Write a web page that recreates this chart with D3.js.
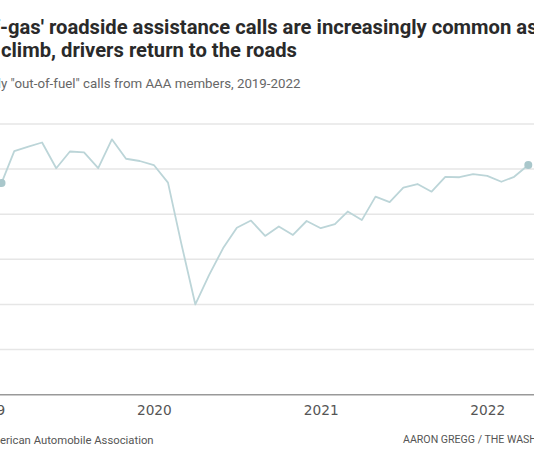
<!DOCTYPE html>
<html>
<head>
<meta charset="utf-8">
<script src="https://cdn.jsdelivr.net/npm/d3@7"></script>
<style>
  html, body { margin: 0; padding: 0; background: #fff; overflow: hidden; }
  svg { display: block; font-family: "Roboto", "Liberation Sans", sans-serif; }
</style>
</head>
<body>
<div id="chart"></div>
<script>
// Monthly "out-of-fuel" calls
const months = [
  "2019-02","2019-03","2019-04","2019-05","2019-06","2019-07","2019-08","2019-09","2019-10","2019-11","2019-12",
  "2020-01","2020-02","2020-03","2020-04","2020-05","2020-06","2020-07","2020-08","2020-09","2020-10","2020-11","2020-12",
  "2021-01","2021-02","2021-03","2021-04","2021-05","2021-06","2021-07","2021-08","2021-09","2021-10","2021-11","2021-12",
  "2022-01","2022-02","2022-03","2022-04"
];
const calls = [
  46900, 54000, 55000, 55900, 50200, 53900, 53700, 50200, 56600, 52300, 51800,
  50900, 47000, 33600, 20000, 26500, 32500, 37000, 38600, 35200, 37300, 35400, 38500,
  36900, 37800, 40600, 38700, 43900, 42700, 45900, 46700, 45000, 48300, 48200, 48900,
  48500, 47200, 48300, 50900
];
const yTicks = [0, 10000, 20000, 30000, 40000, 50000, 60000];
const yearTicks = ["2019", "2020", "2021", "2022"];

const titleLines = [
  "'Out-of-gas' roadside assistance calls are increasingly common as gas",
  "prices climb, drivers return to the roads"
];
const subtitle = "Monthly \"out-of-fuel\" calls from AAA members, 2019-2022";
const sourceText = "Source: American Automobile Association";
const creditText = "AARON GREGG / THE WASHINGTON POST";

const width = 534;
const height = 462;

const parseMonth = d3.timeParse("%Y-%m");
const data = months.map((m, i) => ({ date: parseMonth(m), value: calls[i] }));

const svg = d3.select("#chart")
  .append("svg")
  .attr("width", width)
  .attr("height", height);

const x = d3.scaleTime()
  .domain([parseMonth("2019-02"), parseMonth("2022-04")])
  .range([1.5, 528.3]);

const y = d3.scaleLinear()
  .domain([0, 60000])
  .range([394.7, 124]);

// text that is cut on the left: shift so the visible part starts at targetX
function croppedText(full, prefix, targetX, yPos, size, weight, color) {
  const t = svg.append("text")
    .attr("y", yPos)
    .attr("font-size", size)
    .attr("font-weight", weight)
    .attr("fill", color)
    .text(prefix.replace(/ /g, "\u00a0"));
  const w = prefix ? t.node().getComputedTextLength() : 0;
  t.attr("x", targetX - w).text(full);
  return t;
}

// titles
croppedText(titleLines[0], "'Out-of", 0, 33.5, 20.2, 700, "#2a2a2a");
croppedText(titleLines[1], "prices ", 1, 56.5, 20.2, 700, "#2a2a2a");
croppedText(subtitle, "Monthl", 1, 87.5, 13.3, 400, "#666");

// gridlines
svg.append("g")
  .selectAll("line")
  .data(yTicks.filter(d => d > 0))
  .enter()
  .append("line")
  .attr("x1", 0)
  .attr("x2", width)
  .attr("y1", d => y(d))
  .attr("y2", d => y(d))
  .attr("stroke", "#e6e6e6")
  .attr("stroke-width", 1.5);

// baseline
svg.append("line")
  .attr("x1", 0)
  .attr("x2", width)
  .attr("y1", y(0))
  .attr("y2", y(0))
  .attr("stroke", "#999")
  .attr("stroke-width", 1.5);

// x axis (years)
const xAxis = svg.append("g")
  .attr("transform", `translate(0, ${y(0)})`)
  .call(d3.axisBottom(x)
    .tickValues(yearTicks.map(d => d3.timeParse("%Y")(d)))
    .tickFormat(d3.timeFormat("%Y"))
    .tickSize(0));
xAxis.select(".domain").remove();
xAxis.selectAll("text")
  .attr("y", 20)
  .attr("dy", 0)
  .attr("font-size", 13.7)
  .attr("font-family", "'DejaVu Sans', sans-serif")
  .attr("fill", "#555");

// line
const line = d3.line()
  .x(d => x(d.date))
  .y(d => y(d.value));

svg.append("path")
  .datum(data)
  .attr("fill", "none")
  .attr("stroke", "#bcd5d8")
  .attr("stroke-width", 1.8)
  .attr("stroke-linejoin", "round")
  .attr("d", line);

// end dots
svg.selectAll("circle.end")
  .data([data[0], data[data.length - 1]])
  .enter()
  .append("circle")
  .attr("class", "end")
  .attr("cx", d => x(d.date))
  .attr("cy", d => y(d.value))
  .attr("r", 4)
  .attr("fill", "#a9c7cb");

// footer
croppedText(sourceText, "Source: Am", 0, 444, 11.3, 400, "#555");
svg.append("text")
  .attr("x", 403)
  .attr("y", 443)
  .attr("font-size", 10.6)
  .attr("fill", "#555")
  .text(creditText);
</script>
</body>
</html>
